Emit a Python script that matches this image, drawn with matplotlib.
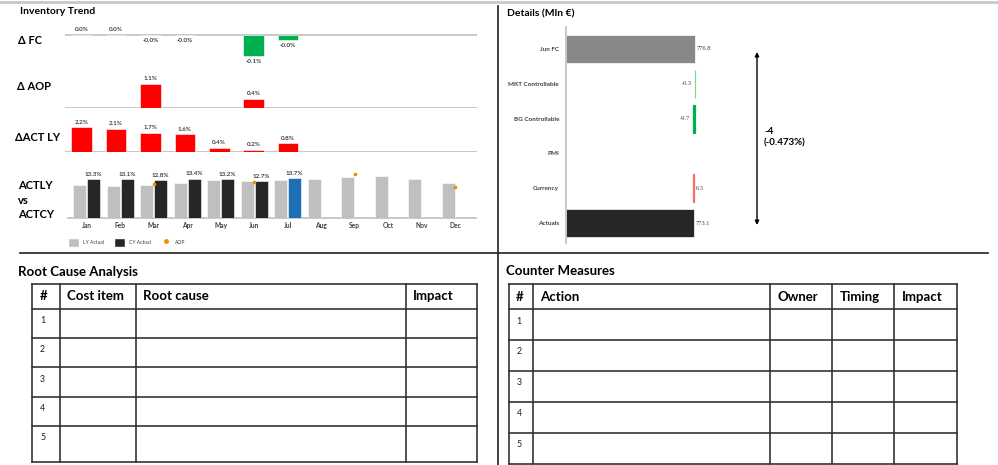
import numpy as np
import matplotlib.pyplot as plt
from matplotlib.patches import Patch
from matplotlib.lines import Line2D

plt.rcParams['font.family'] = ['Lato', 'DejaVu Sans']

W, H = 998, 465
nan = np.nan

# ---- data ----
months = ['Jan', 'Feb', 'Mar', 'Apr', 'May', 'Jun', 'Jul', 'Aug', 'Sep', 'Oct', 'Nov', 'Dec']
delta_fc = [0.001, 0.001, -0.001, -0.001, nan, -0.12, -0.03, nan, nan, nan, nan, nan]
delta_aop = [nan, nan, 1.1, nan, nan, 0.4, nan, nan, nan, nan, nan, nan]
delta_act_ly = [2.2, 2.1, 1.7, 1.6, 0.4, 0.2, 0.8, nan, nan, nan, nan, nan]
ly_actual = [11.1, 11.0, 11.1, 11.8, 12.8, 12.5, 12.9, 13.4, 13.9, 14.2, 13.4, 12.0]
cy_actual = [13.3, 13.1, 12.8, 13.4, 13.2, 12.7, 13.7, nan, nan, nan, nan, nan]
aop = [nan, nan, 11.7, nan, nan, 12.3, nan, nan, 14.9, nan, nan, 10.4]
current_month = 'Jul'

detail_cats = ['Jun FC', 'MKT Controllable', 'BG Controllable', 'PMI', 'Currency', 'Actuals']
detail_vals = [776.8, -0.3, -9.7, 0.0, 6.3, 773.1]
detail_is_total = [True, False, False, False, False, True]
gap_text = '-4\n(-0.473%)'

rca_headers = ['#', 'Cost item', 'Root cause', 'Impact']
cm_headers = ['#', 'Action', 'Owner', 'Timing', 'Impact']
row_ids = ['1', '2', '3', '4', '5']

GRAY_LINE = '#bfbfbf'
TXT = '#404040'
LY_COL = '#bfbfbf'
CY_COL = '#262626'
AOP_COL = '#f08c00'


def px_axes(fig, x0, y0, x1, y1):
    # pixel box (top-left origin) -> figure axes
    return fig.add_axes([x0 / W, 1 - y1 / H, (x1 - x0) / W, (y1 - y0) / H])


def clean(ax):
    for s in ax.spines.values():
        s.set_visible(False)
    ax.set_xticks([])
    ax.set_yticks([])
    ax.patch.set_alpha(0)


fig = plt.figure(figsize=(W / 100, H / 100), dpi=100)

# overlay in pixel coords for frames, titles, tables
ov = fig.add_axes([0, 0, 1, 1])
ov.set_xlim(0, W)
ov.set_ylim(H, 0)
ov.axis('off')

ov.plot([0, W], [2, 2], color='#c8c8c8', lw=2)
ov.plot([498.5, 498.5], [6, H], color='#202020', lw=1.2)
ov.plot([20, 988], [252.5, 252.5], color='#202020', lw=1.2)

ov.text(20, 11, 'Inventory Trend', fontsize=7.5, fontweight='bold', va='center')
ov.text(507, 14, 'Details (Mln €)', fontsize=7.5, fontweight='bold', va='center')
ov.text(18, 40, 'Δ FC', fontsize=8, fontweight='bold', va='center')
ov.text(17, 87, 'Δ AOP', fontsize=8, fontweight='bold', va='center')
ov.text(15, 137, 'ΔACT LY', fontsize=8, fontweight='bold', va='center')
ov.text(18, 200, 'ACTLY\nvs\nACTCY', fontsize=8, fontweight='bold', va='center',
        linespacing=1.35)

x = np.arange(len(months))


def delta_chart(rect, vals, ylim, pos_color, neg_color):
    ax = px_axes(fig, *rect)
    clean(ax)
    vals = np.array(vals, dtype=float)
    cols = [pos_color if v >= 0 else neg_color for v in np.nan_to_num(vals)]
    ax.bar(x, vals, width=0.6, color=cols, edgecolor='white', linewidth=0.4, zorder=2)
    ax.axhline(0, color=GRAY_LINE, lw=1.2, zorder=1)
    for xi, v in zip(x, vals):
        if np.isnan(v):
            continue
        off = 2 if v >= 0 else -2
        ax.annotate(f'{v:.1f}%', (xi, v), xytext=(0, off), textcoords='offset points',
                    ha='center', va='bottom' if v >= 0 else 'top',
                    fontsize=4.5, fontweight='bold', color=TXT)
    ax.set_xlim(-0.5, len(months) - 0.5)
    ax.set_ylim(*ylim)
    return ax


delta_chart((64.5, 22, 477, 66), delta_fc, (-0.177, 0.074), '#ff0000', '#00b050')
delta_chart((64.5, 70, 477, 108), delta_aop, (0, 1.73), '#ff0000', '#00b050')
delta_chart((64.5, 115, 477, 152.5), delta_act_ly, (0, 3.3), '#ff0000', '#00b050')

# ACTLY vs ACTCY
ax = px_axes(fig, 70, 165, 472, 218)
clean(ax)
cy_cols = ['#1f6fb4' if m == current_month else CY_COL for m in months]
ax.bar(x - 0.21, ly_actual, width=0.4, color=LY_COL, edgecolor='white', linewidth=0.4, zorder=2)
ax.bar(x + 0.21, cy_actual, width=0.4, color=cy_cols, edgecolor='white', linewidth=0.4, zorder=2)
ax.scatter(x, aop, s=7, color=AOP_COL, zorder=3, linewidths=0)
ax.axhline(0, color=GRAY_LINE, lw=1.2, zorder=1, xmin=-0.005, xmax=1.01, clip_on=False)
for xi, v in zip(x, cy_actual):
    if not np.isnan(v):
        ax.annotate(f'{v:.1f}%', (xi + 0.21, v), xytext=(0, 1.5), textcoords='offset points',
                    ha='center', va='bottom', fontsize=4.5, fontweight='bold', color=TXT)
ax.set_xlim(-0.5, len(months) - 0.5)
ax.set_ylim(0, 18.0)
ax.set_xticks(x)
ax.set_xticklabels(months, fontsize=4.8, fontweight='bold', color=TXT)
ax.tick_params(axis='x', length=0, pad=3)
handles = [Patch(facecolor=LY_COL, edgecolor='white'),
           Patch(facecolor=CY_COL, edgecolor='white'),
           Line2D([], [], marker='o', ls='none', color=AOP_COL, markersize=2.5)]
leg = ax.legend(handles, ['LY Actual', 'CY Actual', 'AOP'], loc='upper left',
                bbox_to_anchor=(-0.015, -0.3), ncol=3, frameon=False,
                fontsize=3.6, handlelength=2.2, handleheight=2.2, columnspacing=2.0,
                handletextpad=0.7)
for t in leg.get_texts():
    t.set_color(TXT)

# Details waterfall
axd = px_axes(fig, 566, 27, 740, 243)
for s in ['top', 'right', 'bottom']:
    axd.spines[s].set_visible(False)
axd.spines['left'].set_color(GRAY_LINE)
axd.spines['left'].set_linewidth(1.2)
axd.patch.set_alpha(0)
yk = np.arange(len(detail_cats))
running = 0.0
lefts, widths, colors = [], [], []
for i, (v, tot) in enumerate(zip(detail_vals, detail_is_total)):
    if tot:
        lefts.append(0.0)
        widths.append(v)
        colors.append('#888888' if i == 0 else '#262626')
        running = v
    else:
        lefts.append(running)
        widths.append(v)
        colors.append('#ff6b6b' if v > 0 else ('#00b050' if v < -1 else '#7fd99a'))
        running += v
for yi, l, w, c, tot in zip(yk, lefts, widths, colors, detail_is_total):
    if w == 0:
        continue
    if tot:
        axd.barh(yi, w, left=l, height=0.8, color=c, edgecolor='white', linewidth=0.5)
    else:
        axd.barh(yi, w, left=l, height=0.8, color=c, edgecolor=c, linewidth=0.9)
for yi, l, w in zip(yk, lefts, widths):
    if w == 0:
        continue
    if w > 0:
        axd.annotate(f'{w:.1f}', (l + w, yi), xytext=(1.5, 0), textcoords='offset points',
                     ha='left', va='center', fontsize=4.6, color=TXT, family='Liberation Serif')
    else:
        axd.annotate(f'{w:.1f}', (l + w, yi), xytext=(-2, 0), textcoords='offset points',
                     ha='right', va='center', fontsize=4.6, color=TXT, family='Liberation Serif')
axd.set_yticks(yk)
axd.set_yticklabels(detail_cats, fontsize=4.6, fontweight='bold', color=TXT)
axd.tick_params(axis='y', length=0, pad=5)
axd.set_xticks([])
axd.set_xlim(0, 1051)
axd.set_ylim(len(detail_cats) - 0.43, -0.63)

ov.annotate('', xy=(757, 225), xytext=(757, 52),
            arrowprops=dict(arrowstyle='<|-|>', color='black', lw=1, mutation_scale=6,
                            shrinkA=0, shrinkB=0))
ov.text(764, 137, gap_text, fontsize=7, fontweight='bold', va='center', linespacing=1.3)


# tables
def draw_table(title, title_xy, headers, col_x, row_y, row_text_x):
    ov.text(title_xy[0], title_xy[1], title, fontsize=9.5, fontweight='bold', va='center')
    for cx in col_x:
        ov.plot([cx, cx], [row_y[0], row_y[-1]], color='#333333', lw=1.2)
    for ry in row_y:
        ov.plot([col_x[0], col_x[-1]], [ry, ry], color='#333333', lw=1.2)
    hy = (row_y[0] + row_y[1]) / 2
    for h, cx in zip(headers, col_x[:-1]):
        ov.text(cx + 7, hy, h, fontsize=9.5, fontweight='bold', va='center')
    for rid, ry in zip(row_ids, row_y[1:-1]):
        ov.text(row_text_x, ry + 12, rid, fontsize=6.3, va='center', color='#1a1a1a')


draw_table('Root Cause Analysis', (18, 272), rca_headers,
           [32.5, 60, 136, 406, 477.5], [283.5, 308.5, 337.5, 367, 396.5, 425.5, 461.5], 40)
draw_table('Counter Measures', (506, 271), cm_headers,
           [509, 533, 770.5, 832.5, 894.5, 957], [284, 309, 339.5, 370.5, 401.5, 432.5, 463.5],
           516.5)

fig.savefig('out.png', dpi=100)
